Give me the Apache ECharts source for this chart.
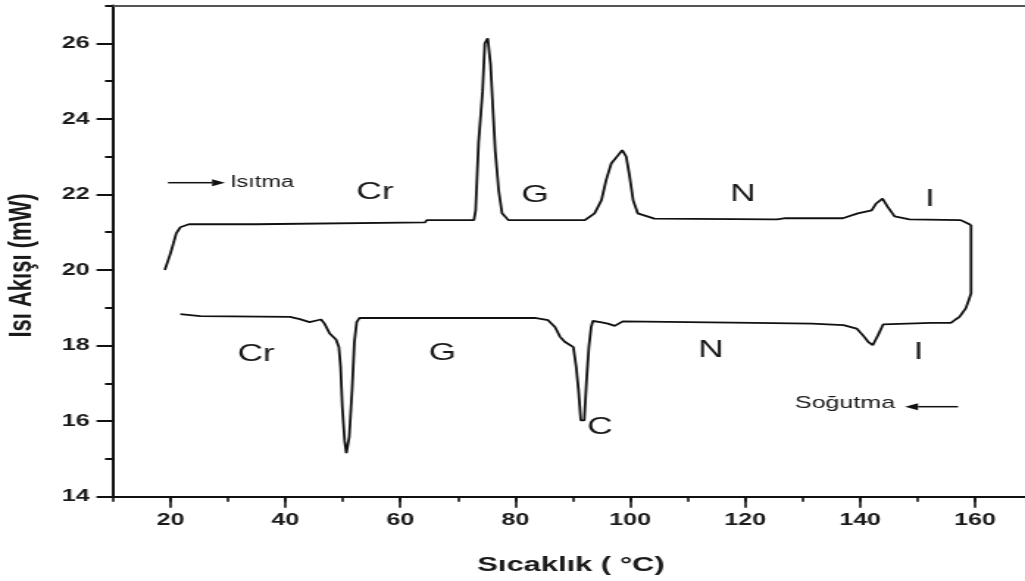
<!DOCTYPE html>
<html>
<head>
<meta charset="utf-8">
<script src="https://cdn.jsdelivr.net/npm/echarts@6.0.0/dist/echarts.min.js"></script>
<style>
    html, body { margin: 0; padding: 0; background: #fff; overflow: hidden; }
    /* the original picture is stretched sideways, so the chart is drawn narrow and scaled */
    #main { width: 703px; height: 581px; transform: scaleX(1.4706); transform-origin: 0 0; }
</style>
</head>
<body>
<div id="main"></div>
<script>
// DSC 曲线: 加热 (Isıtma) 和 冷却 (Soğutma)
let heatT = [19.0, 19.4, 20.0, 20.5, 21.0, 21.7, 23.2, 34.7, 35.0, 64.3, 64.6, 72.8, 73.1, 73.6, 74.3, 74.7, 75.2,
    75.7, 76.1, 76.5, 77.1, 77.7, 78.8, 92.1, 93.8, 95.0, 95.8, 96.7, 97.9, 98.6, 99.3, 99.9, 100.5, 101.3, 104.2,
    124.9, 125.2, 125.6, 127.0, 137.0, 137.2, 139.6, 142.0, 142.8, 143.9, 144.8, 146.0, 148.6, 157.5, 158.2, 159.3]
let heatV = [20.0, 20.17, 20.44, 20.7, 20.97, 21.13, 21.21, 21.21, 21.26, 21.26, 21.32, 21.32, 21.58, 23.35, 24.72, 26.0, 26.13,
    25.43, 24.28, 23.17, 22.11, 21.5, 21.32, 21.32, 21.5, 21.85, 22.38, 22.82, 23.04, 23.17, 23.0, 22.47, 21.85, 21.5, 21.36,
    21.34, 21.39, 21.34, 21.37, 21.37, 21.42, 21.5, 21.58, 21.76, 21.89, 21.67, 21.42, 21.34, 21.32, 21.27, 21.19]

let coolT = [159.3, 159.3, 158.9, 158.4, 157.3, 156.6, 155.8, 152.4, 152.2, 144.0, 143.1, 142.2, 141.4, 140.5, 139.4,
    137.1, 131.6, 121.5, 121.2, 98.7, 98.4, 97.3, 96.1, 94.8, 93.5, 93.2, 92.8, 92.4, 92.0, 91.4, 91.0, 90.6, 90.1,
    88.6, 87.8, 86.9, 85.7, 83.4, 52.9, 52.4, 52.0, 51.6, 51.1, 50.6, 50.3, 49.9, 49.6, 49.3, 48.8, 47.7, 46.8, 46.2,
    45.6, 44.2, 42.5, 40.8, 25.2, 25.1, 21.7]
let coolV = [21.19, 19.38, 19.2, 18.99, 18.76, 18.69, 18.6, 18.6, 18.58, 18.56, 18.27, 18.01, 18.1, 18.27, 18.45,
    18.54, 18.58, 18.6, 18.64, 18.64, 18.6, 18.52, 18.58, 18.62, 18.65, 18.49, 17.96, 17.08, 16.02, 16.02, 16.82, 17.43, 17.96,
    18.1, 18.23, 18.49, 18.67, 18.73, 18.73, 18.62, 18.1, 16.82, 15.58, 15.15, 15.49, 16.37, 17.43, 17.96, 18.16, 18.32, 18.58, 18.69,
    18.67, 18.62, 18.7, 18.76, 18.78, 18.83, 18.83]

let xLabels = [20, 40, 60, 80, 100, 120, 140, 160]
let yLabels = [14, 16, 18, 20, 22, 24, 26]

const S = 1.4706   // horizontal stretch
const W = 703      // chart width before stretch
const font = 'Liberation Sans, Arial, sans-serif'
const ink = '#1a1a1a'

let myChart = echarts.init(document.getElementById('main'));

function txt(s, xr, y, size, weight) {
    return {
        type: 'text', x: xr / S, y: y, silent: true,
        style: {
            text: s, fontSize: size, fontFamily: font, fontWeight: weight || 'normal',
            fill: ink, align: 'center', verticalAlign: 'middle'
        }
    }
}

function arrow(x1, x2, y, right) {
    // x1 -> x2 line, head at x2
    let d = right ? -13 : 13
    return [{
        type: 'line', silent: true,
        shape: { x1: x1 / S, y1: y, x2: (x2 + d) / S, y2: y },
        style: { stroke: '#111', lineWidth: 1.5 }
    }, {
        type: 'polygon', silent: true,
        shape: { points: [[x2 / S, y], [(x2 + d) / S, y - 3.5], [(x2 + d) / S, y + 3.5]] },
        style: { fill: '#111' }
    }]
}

let baseX = { type: 'value', min: 10, max: 170, splitLine: { show: false } }
let baseY = { type: 'value', min: 14, max: 27, splitLine: { show: false } }

let isitma = txt('Isıtma', 230, 182.7, 16)
isitma.style.align = 'left'

let option = {
    animation: false,
    backgroundColor: '#fff',
    grid: { left: 113 / S, right: W - 1032.5 / S, top: 5.5, bottom: 84.3 },
    xAxis: [
        Object.assign({}, baseX, {
            position: 'bottom',
            axisLine: { lineStyle: { color: '#111', width: 2 } },
            axisTick: { customValues: xLabels, length: 11, lineStyle: { color: '#111', width: 1.6 } },
            axisLabel: {
                customValues: xLabels, margin: 15, fontSize: 17, fontWeight: 'bold',
                fontFamily: font, color: ink
            }
        }),
        Object.assign({}, baseX, {
            position: 'bottom', interval: 10,
            axisLine: { show: false },
            axisTick: { length: 5, lineStyle: { color: '#111', width: 1.6 } },
            axisLabel: { show: false }
        }),
        Object.assign({}, baseX, {
            position: 'top',
            axisLine: { lineStyle: { color: '#555', width: 2 } },
            axisTick: { show: false },
            axisLabel: { show: false }
        })
    ],
    yAxis: [
        Object.assign({}, baseY, {
            position: 'left',
            axisLine: { lineStyle: { color: '#111', width: 2 } },
            axisTick: { customValues: yLabels, length: 16.5 / S, lineStyle: { color: '#111', width: 2 } },
            axisLabel: {
                customValues: yLabels, margin: 16, fontSize: 17, fontWeight: 'bold',
                fontFamily: font, color: ink
            }
        }),
        Object.assign({}, baseY, {
            position: 'left', interval: 1,
            axisLine: { show: false },
            axisTick: { length: 8 / S, lineStyle: { color: '#111', width: 2 } },
            axisLabel: { show: false }
        })
    ],
    series: [{
        name: 'Isıtma',
        type: 'line',
        data: heatT.map((t, i) => [t, heatV[i]]),
        showSymbol: false,
        lineStyle: { color: '#111', width: 1.8 }
    }, {
        name: 'Soğutma',
        type: 'line',
        data: coolT.map((t, i) => [t, coolV[i]]),
        showSymbol: false,
        lineStyle: { color: '#111', width: 1.8 }
    }],
    graphic: [
        // eksen başlıkları
        Object.assign(txt('Isı Akışı (mW)', 22, 265.5, 22, 'bold'), { rotation: Math.PI / 2 }),
        txt('Sıcaklık ( °C)', 571, 565, 21, 'bold'),
        // faz etiketleri
        txt('Cr', 375, 192, 24), txt('G', 535, 195, 24), txt('N', 743, 194, 24), txt('I', 930, 199, 24),
        txt('Cr', 256, 354, 24), txt('G', 442.5, 353, 24), txt('C', 600, 427, 24),
        txt('N', 711, 350.5, 24), txt('I', 918.5, 352.5, 24),
        // oklar
        ...arrow(168, 225, 182.7, true),
        isitma,
        ...arrow(958, 905, 406.7, false),
        txt('Soğutma', 845, 403.5, 17)
    ]
};

myChart.setOption(option);
</script>
</body>
</html>
